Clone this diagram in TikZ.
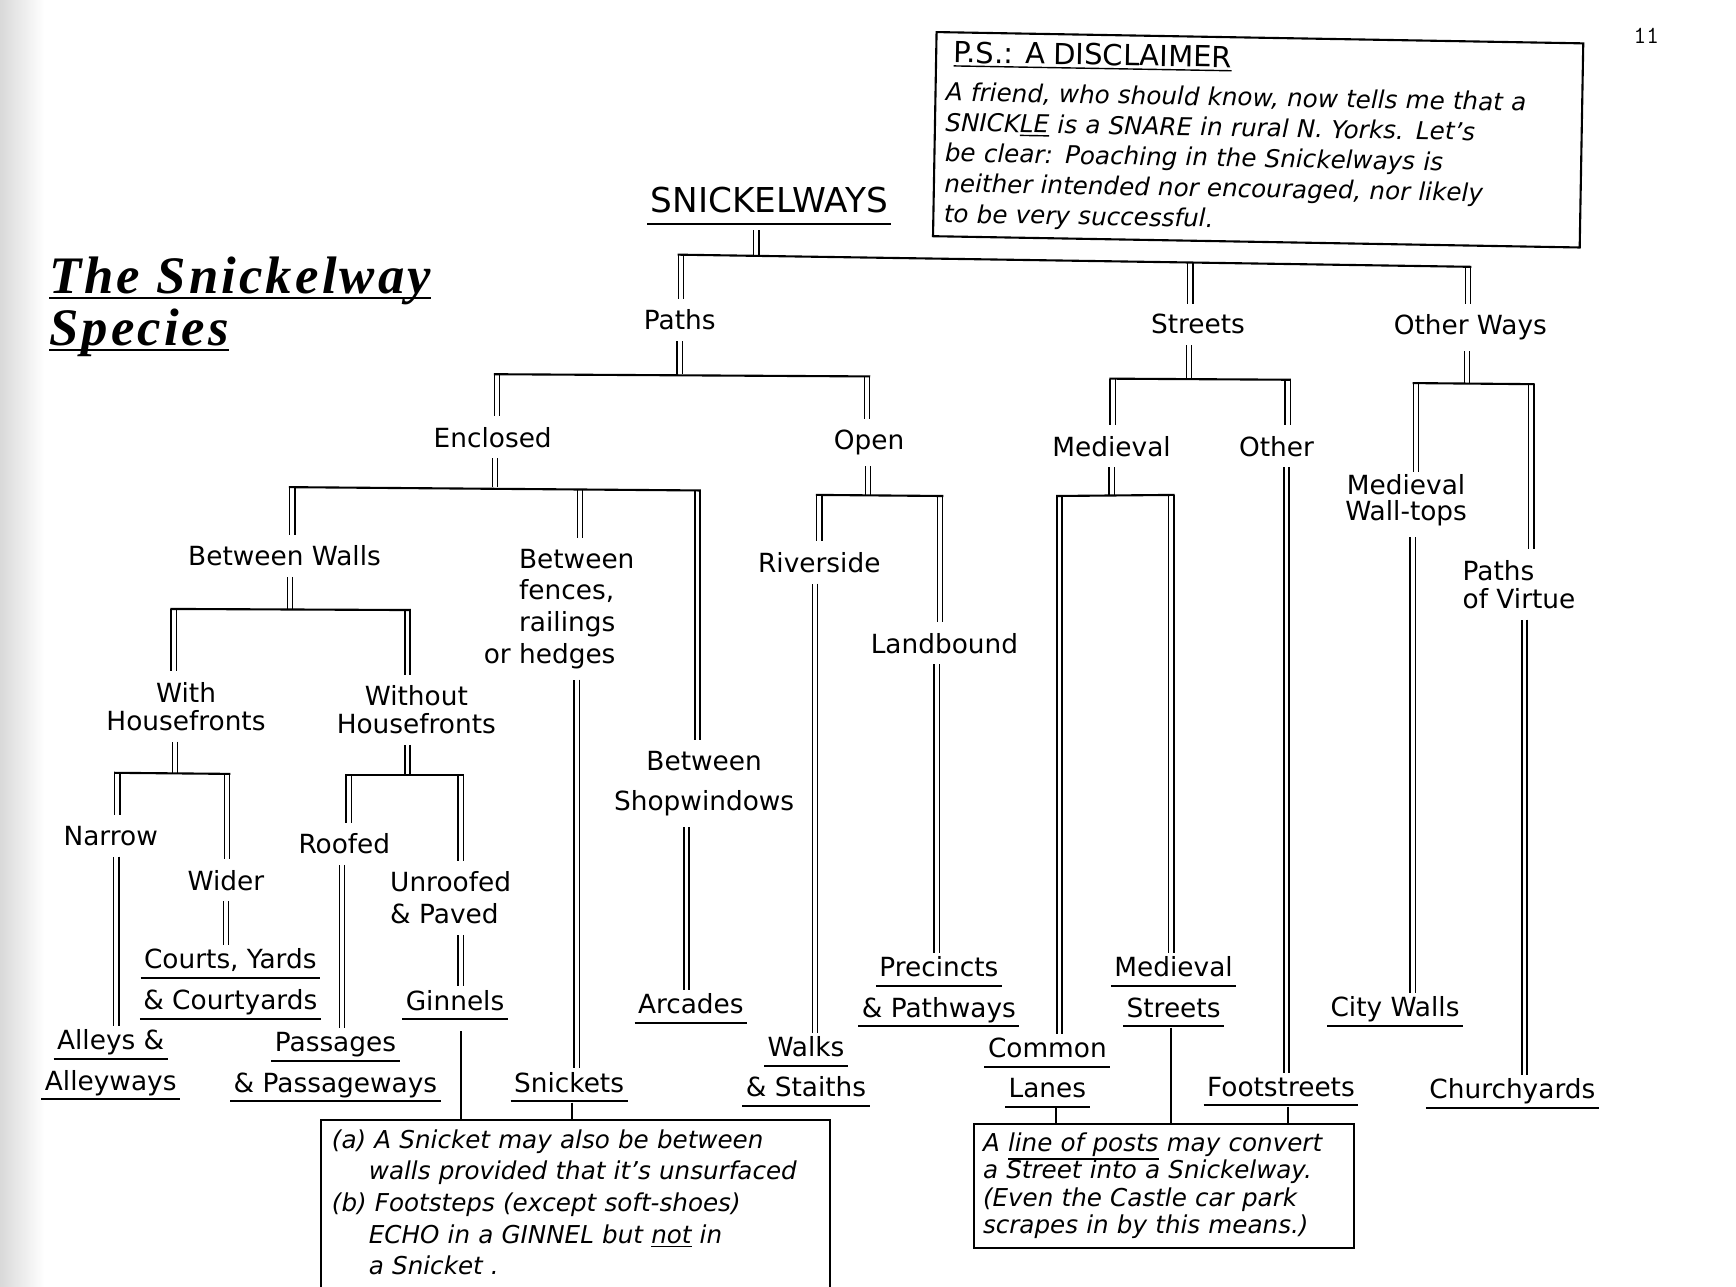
\documentclass[tikz,border=0pt]{standalone}
\usepackage{fontspec}
\setmainfont{DejaVu Sans}
\newfontfamily\titlefont{Liberation Serif}[LetterSpace=6]

% underlined word, rule a little below the descenders
\newcommand{\uln}[2][2pt]{\leavevmode\vtop{\hbox{\kern#1\relax#2\kern#1\relax\vphantom{gy}}\kern1.6pt\hrule height 1.1pt}}
% underline inside a line of text
\newcommand{\ulin}[1]{\leavevmode\vtop{\hbox{#1}\kern1.2pt\hrule height 0.8pt}}
% underline of the heading, crossed by the descenders
\newcommand{\ulhead}[1]{\leavevmode\vtop{\hbox{\raisebox{0pt}[\height][0pt]{#1}}\kern2pt\hrule height 1.4pt}}

\begin{document}
\begin{tikzpicture}[x=0.02214cm, y=-0.02214cm,   % one unit = one pixel of the sketch
    lbl/.style={font=\fontsize{15}{16}\selectfont, align=center, inner xsep=2pt, inner ysep=6pt},
    leaf/.style={font=\fontsize{15}{23}\selectfont, align=center, inner sep=2pt},
    root/.style={font=\fontsize{19.5}{21}\selectfont, inner sep=3pt},
    heading/.style={font=\fontsize{30}{36}\selectfont\titlefont\bfseries\itshape, anchor=base west, inner sep=0pt},
    pgnum/.style={font=\fontsize{14}{16}\selectfont\ttfamily},
    notebox/.style={align=left, font=\fontsize{14}{17.3}\selectfont\itshape, inner xsep=6pt, inner ysep=5pt},
    dbl/.style={draw, line width=0.8pt, double distance=2.2pt},
    bar/.style={line width=1.2pt},
    link/.style={line width=1.1pt},
    boxline/.style={line width=1.2pt}
]
    \useasboundingbox (0,0) rectangle (1568,1162);
    \clip (0,0) rectangle (1568,1162);
    \shade[left color=black!15, right color=white] (0,0) rectangle (40,1162);

    % 1. Heading and page number
    \node[heading] (heading1) at (44,265) {\ulhead{The Snickelway}};
    \node[heading] (heading2) at (44,312) {\ulhead{Species}};
    \node[pgnum] (pageno) at (1487,32) {11};

    % 2. The disclaimer
    \node[notebox, draw, line width=1.2pt, rotate=-1, anchor=north west, text width=356pt, inner ysep=5pt] (disclaimer) at (845,28) {
        \hspace*{4pt}{\upshape\fontsize{16.5}{18}\selectfont\ulin{P.S.: A DISCLAIMER}}\\[4.5pt]
        A friend, who should know, now tells me that a\\
        SNICK\ulin{LE} is a SNARE in rural N. Yorks. Let's\\
        be clear: Poaching in the Snickelways is\\
        neither intended nor encouraged, nor likely\\
        to be very successful.
    };

    % 3. The tree
    \node[root] (root) at (695,186) {\uln{SNICKELWAYS}};

    \node[lbl] (paths) at (614,289) {Paths};
    \node[lbl] (streets) at (1082,293) {Streets};
    \node[lbl] (otherways) at (1328,296) {Other Ways};

    \node[lbl] (enclosed) at (445,395) {Enclosed};
    \node[lbl] (open) at (785,400) {Open};
    \node[lbl] (medieval) at (1004,403) {Medieval};
    \node[lbl] (other) at (1153,403) {Other};
    \node[lbl, font=\fontsize{15}{15}\selectfont] (walltops) at (1270,452) {Medieval\\Wall-tops};
    \node[lbl, align=left] (virtue) at (1372,528) {Paths\\of Virtue};

    \node[lbl] (bwalls) at (257,502) {Between Walls};
    \node[lbl, align=left, font=\fontsize{15}{18}\selectfont] (fences) at (505,550) {\phantom{or }Between\\\phantom{or }fences,\\\phantom{or }railings\\or hedges};
    \node[lbl, font=\fontsize{15}{23}\selectfont] (shop) at (636,708) {Between\\Shopwindows};
    \node[lbl] (riverside) at (740,508) {Riverside};
    \node[lbl] (landbound) at (853,581) {Landbound};

    \node[lbl] (withhf) at (168,638) {With\\Housefronts};
    \node[lbl] (withouthf) at (376,641) {Without\\Housefronts};
    \node[lbl] (narrow) at (100,755) {Narrow};
    \node[lbl] (wider) at (204,795) {Wider};
    \node[lbl] (roofed) at (311,762) {Roofed};
    \node[lbl, align=left, font=\fontsize{15}{18}\selectfont] (unroofed) at (407,811) {Unroofed\\\& Paved};

    % the species themselves
    \node[leaf] (alleys) at (100,962) {\uln{Alleys \&}\\\uln{Alleyways}};
    \node[leaf] (courts) at (208,889) {\uln{Courts, Yards}\\\uln{\& Courtyards}};
    \node[leaf] (passages) at (303,964) {\uln{Passages}\\\uln{\& Passageways}};
    \node[leaf] (ginnels) at (411,908) {\uln{Ginnels}};
    \node[leaf] (snickets) at (514,982) {\uln{Snickets}};
    \node[leaf] (arcades) at (624,911) {\uln{Arcades}};
    \node[leaf] (walks) at (728,968) {\uln{Walks}\\\uln{\& Staiths}};
    \node[leaf] (precincts) at (848,896) {\uln{Precincts}\\\uln{\& Pathways}};
    \node[leaf] (common) at (946,969) {\uln{Common}\\\uln{Lanes}};
    \node[leaf] (medstreets) at (1060,896) {\uln{Medieval}\\\uln{Streets}};
    \node[leaf] (footstreets) at (1157,986) {\uln{Footstreets}};
    \node[leaf] (citywalls) at (1260,914) {\uln{City Walls}};
    \node[leaf] (churchyards) at (1366,988) {\uln{Churchyards}};

    % 4. The notes
    \node[notebox, font=\fontsize{14}{18}\selectfont\itshape, anchor=north west, text width=277pt] (noteA) at (290,1012) {
        (a) A Snicket may also be between\\
        \hspace*{21pt}walls provided that it's unsurfaced\\
        (b) Footsteps (except soft-shoes)\\
        \hspace*{21pt}ECHO in a GINNEL but \ulin{not} in\\
        \hspace*{21pt}a Snicket .
    };
    \draw[boxline] ([yshift=-30pt]noteA.south west) |- (noteA.north east) -- ([yshift=-30pt]noteA.south east);

    \node[notebox, draw, line width=1.2pt, font=\fontsize{14}{15.7}\selectfont\itshape, anchor=north west, text width=206pt, minimum height=70pt, inner xsep=5pt] (noteB) at (879,1014) {
        A \ulin{line of posts} may convert\\
        a Street into a Snickelway.\\
        (Even the Castle car park\\
        scrapes in by this means.)
    };

    % 5. Junctions on the bars
    \coordinate (j-root) at (683,230);
    \coordinate (j-paths) at (615,230);
    \coordinate (j-streets) at (1075,237);
    \coordinate (j-otherways) at (1326,241);
    \coordinate (j-pathsbar) at (614,338);
    \coordinate (j-enclosed) at (449,338);
    \coordinate (j-open) at (783,340);
    \coordinate (j-streetsbar) at (1074,342);
    \coordinate (j-medieval) at (1005,342);
    \coordinate (j-other) at (1163,343);
    \coordinate (j-owbar) at (1325,346);
    \coordinate (j-walltops) at (1279,346);
    \coordinate (j-virtue) at (1383,347);
    \coordinate (j-enclbar) at (447,440);
    \coordinate (j-bwalls) at (264,440);
    \coordinate (j-fences) at (524,442);
    \coordinate (j-shop) at (630,443);
    \coordinate (j-openbar) at (784,447);
    \coordinate (j-riverside) at (740,447);
    \coordinate (j-landbound) at (849,448);
    \coordinate (j-medbar) at (1004,447);
    \coordinate (j-common) at (957,448);
    \coordinate (j-medstreets) at (1058,447);
    \coordinate (j-bwbar) at (262,550);
    \coordinate (j-withhf) at (157,550);
    \coordinate (j-withouthf) at (368,551);
    \coordinate (j-whbar) at (158,698);
    \coordinate (j-narrow) at (106,698);
    \coordinate (j-wider) at (205,699);
    \coordinate (j-wohbar) at (368,700);
    \coordinate (j-roofed) at (315,700);
    \coordinate (j-unroofed) at (416,700);

    % 6. Double lines
    \draw[dbl] (root.south -| j-root) -- (j-root);
    \draw[dbl] (j-paths) -- (paths.north -| j-paths);
    \draw[dbl] (j-streets) -- (streets.north -| j-streets);
    \draw[dbl] (j-otherways) -- (otherways.north -| j-otherways);

    \draw[dbl] (paths.south -| j-pathsbar) -- (j-pathsbar);
    \draw[dbl] (j-enclosed) -- (enclosed.north -| j-enclosed);
    \draw[dbl] (j-open) -- (open.north -| j-open);

    \draw[dbl] (streets.south -| j-streetsbar) -- (j-streetsbar);
    \draw[dbl] (j-medieval) -- (medieval.north -| j-medieval);
    \draw[dbl] (j-other) -- (other.north -| j-other);

    \draw[dbl] (otherways.south -| j-owbar) -- (j-owbar);
    \draw[dbl, shorten >=-5pt] (j-walltops) -- (walltops.north -| j-walltops);
    \draw[dbl] (j-virtue) -- (virtue.north -| j-virtue);

    \draw[dbl] (enclosed.south -| j-enclbar) -- (j-enclbar);
    \draw[dbl] (j-bwalls) -- (bwalls.north -| j-bwalls);
    \draw[dbl] (j-fences) -- (fences.north -| j-fences);
    \draw[dbl] (j-shop) -- (shop.north -| j-shop);

    \draw[dbl] (open.south -| j-openbar) -- (j-openbar);
    \draw[dbl] (j-riverside) -- (riverside.north -| j-riverside);
    \draw[dbl] (j-landbound) -- (landbound.north -| j-landbound);

    \draw[dbl] (medieval.south -| j-medbar) -- (j-medbar);
    \draw[dbl] (j-common) -- (common.north -| j-common);
    \draw[dbl] (j-medstreets) -- (medstreets.north -| j-medstreets);

    \draw[dbl] (bwalls.south -| j-bwbar) -- (j-bwbar);
    \draw[dbl] (j-withhf) -- (withhf.north -| j-withhf);
    \draw[dbl] (j-withouthf) -- (withouthf.north -| j-withouthf);

    \draw[dbl] (withhf.south -| j-whbar) -- (j-whbar);
    \draw[dbl] (j-narrow) -- (narrow.north -| j-narrow);
    \draw[dbl] (j-wider) -- (wider.north -| j-wider);

    \draw[dbl] (withouthf.south -| j-wohbar) -- (j-wohbar);
    \draw[dbl] (j-roofed) -- (roofed.north -| j-roofed);
    \draw[dbl] (j-unroofed) -- (unroofed.north -| j-unroofed);

    % straight runs down to the species
    \draw[dbl] (narrow.south -| 105,0) -- (alleys.north -| 105,0);
    \draw[dbl] (wider.south -| 204,0) -- (courts.north -| 204,0);
    \draw[dbl] (roofed.south -| 309,0) -- (passages.north -| 309,0);
    \draw[dbl] (unroofed.south -| 416,0) -- (ginnels.north -| 416,0);
    \draw[dbl] (fences.south -| 521,0) -- (snickets.north -| 521,0);
    \draw[dbl] (shop.south -| 620,0) -- (arcades.north -| 620,0);
    \draw[dbl] (riverside.south -| 736,0) -- (walks.north -| 736,0);
    \draw[dbl] (landbound.south -| 846,0) -- (precincts.north -| 846,0);
    \draw[dbl] (other.south -| 1162,0) -- (footstreets.north -| 1162,0);
    \draw[dbl] (walltops.south -| 1276,0) -- (citywalls.north -| 1276,0);
    \draw[dbl] (virtue.south -| 1377,0) -- (churchyards.north -| 1377,0);

    % 7. Bars (over the line ends)
    \draw[bar] ([xshift=-1.9pt]j-paths) -- ([xshift=1.9pt]j-otherways);
    \draw[bar] ([xshift=-1.9pt]j-enclosed) -- ([xshift=1.9pt]j-open);
    \draw[bar] ([xshift=-1.9pt]j-medieval) -- ([xshift=1.9pt]j-other);
    \draw[bar] ([xshift=-1.9pt]j-walltops) -- ([xshift=1.9pt]j-virtue);
    \draw[bar] ([xshift=-1.9pt]j-bwalls) -- ([xshift=1.9pt]j-shop);
    \draw[bar] ([xshift=-1.9pt]j-riverside) -- ([xshift=1.9pt]j-landbound);
    \draw[bar] ([xshift=-1.9pt]j-common) -- ([xshift=1.9pt]j-medstreets);
    \draw[bar] ([xshift=-1.9pt]j-withhf) -- ([xshift=1.9pt]j-withouthf);
    \draw[bar] ([xshift=-1.9pt]j-narrow) -- ([xshift=1.9pt]j-wider);
    \draw[bar] ([xshift=-1.9pt]j-roofed) -- ([xshift=1.9pt]j-unroofed);

    % 8. Links to the notes
    \draw[link, shorten <=4pt] (ginnels.south -| 416,0) -- (noteA.north -| 416,0);
    \draw[link, shorten <=-2pt] (snickets.south -| 517,0) -- (noteA.north -| 517,0);
    \draw[link, shorten <=-2pt] (common.south -| 954,0) -- (noteB.north -| 954,0);
    \draw[link, shorten <=-2pt] (medstreets.south -| 1058,0) -- (noteB.north -| 1058,0);
    \draw[link, shorten <=-2pt] (footstreets.south -| 1163,0) -- (noteB.north -| 1163,0);

\end{tikzpicture}
\end{document}
